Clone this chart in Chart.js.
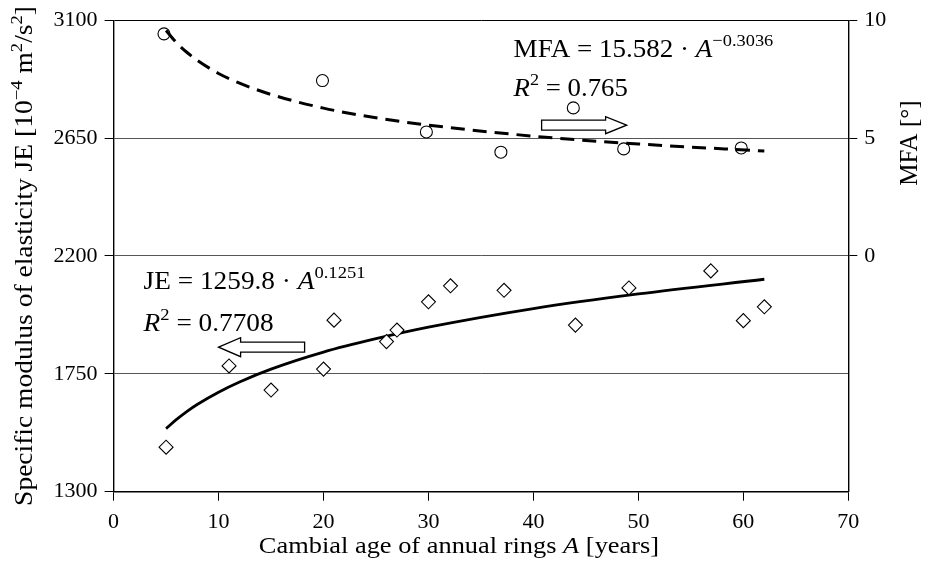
<!DOCTYPE html>
<html>
<head>
<meta charset="utf-8">
<script src="https://cdn.jsdelivr.net/npm/chart.js@4"></script>
<style>
html, body { margin: 0; padding: 0; background: #fff; }
#wrap { width: 927px; height: 563px; position: relative; }
</style>
</head>
<body>
<div id="wrap"><canvas id="chart"></canvas></div>
<script>
// measured points (diamonds = JE, circles = MFA)
const ageJE = [5, 11, 15, 20, 21, 26, 27, 30, 32.1, 37.2, 44, 49.1, 56.9, 60, 62];
const valuesJE = [1470, 1780, 1688, 1768, 1955, 1873, 1917, 2025, 2086, 2069, 1936, 2078, 2143, 1953, 2006];
const ageMFA = [4.8, 19.9, 29.8, 36.9, 43.8, 48.6, 59.8];
const valuesMFA = [9.42, 7.44, 5.26, 4.40, 6.28, 4.54, 4.58];

// trend curves
const fitAge = [5, 6, 7, 8, 10, 12, 15, 20, 25, 30, 40, 50, 62];
const fitJE = [1541, 1576, 1607, 1634, 1680, 1719, 1768, 1833, 1884, 1928, 1999, 2055, 2111];
const fitMFA = [9.56, 9.04, 8.63, 8.29, 7.74, 7.33, 6.85, 6.27, 5.86, 5.55, 5.08, 4.75, 4.45];

const xTicks = [0, 10, 20, 30, 40, 50, 60, 70];
const leftTicks = [1300, 1750, 2200, 2650, 3100];
const rightTicks = [0, 5, 10];

const FONT = "'Liberation Serif', 'DejaVu Serif', serif";

function pts(xs, ys) {
  return xs.map((x, i) => ({ x: x, y: ys[i] }));
}

function fontFor(style, size) {
  let s = style.indexOf('s') >= 0 ? size * 0.68 : size;
  return (style.indexOf('i') >= 0 ? 'italic ' : '') + s + 'px ' + FONT;
}

// text made of plain / italic / superscript pieces, stretched a little to look like the TeX font
function drawRich(ctx, parts, x, y, size, align, stretch) {
  stretch = stretch || 1;
  let widths = parts.map((p) => {
    ctx.font = fontFor(p[1], size);
    return ctx.measureText(p[0]).width;
  });
  let total = widths.reduce((a, b) => a + b, 0) * stretch;
  let cx = align == 'center' ? x - total / 2 : x;
  ctx.save();
  ctx.translate(cx, y);
  ctx.scale(stretch, 1);
  ctx.textAlign = 'left';
  ctx.textBaseline = 'alphabetic';
  let px = 0;
  parts.forEach((p, i) => {
    ctx.font = fontFor(p[1], size);
    let dy = p[1].indexOf('s') >= 0 ? -size * 0.42 : 0;
    ctx.fillText(p[0], px, dy);
    px += widths[i];
  });
  ctx.restore();
}

function drawArrow(ctx, tipX, y, tailX, shaftH, headH, headL) {
  let dir = tailX > tipX ? 1 : -1;
  let baseX = tipX + dir * headL;
  ctx.beginPath();
  ctx.moveTo(tipX, y);
  ctx.lineTo(baseX, y - headH / 2);
  ctx.lineTo(baseX, y - shaftH / 2);
  ctx.lineTo(tailX, y - shaftH / 2);
  ctx.lineTo(tailX, y + shaftH / 2);
  ctx.lineTo(baseX, y + shaftH / 2);
  ctx.lineTo(baseX, y + headH / 2);
  ctx.closePath();
  ctx.fillStyle = '#fff';
  ctx.fill();
  ctx.lineWidth = 1.3;
  ctx.strokeStyle = '#000';
  ctx.stroke();
}

const annotations = {
  id: 'annotations',
  afterDraw(chart) {
    const ctx = chart.ctx;
    const a = chart.chartArea;
    ctx.save();
    ctx.fillStyle = '#000';

    // equations
    drawRich(ctx, [['MFA = 15.582 · ', ''], ['A', 'i'], ['−0.3036', 's']], a.left + 400, a.top + 37, 26, 'left', 1.04);
    drawRich(ctx, [['R', 'i'], ['2', 's'], [' = 0.765', '']], a.left + 400, a.top + 76, 26, 'left', 1.03);
    drawRich(ctx, [['JE = 1259.8 · ', ''], ['A', 'i'], ['0.1251', 's']], a.left + 30, a.top + 269, 26, 'left', 1.05);
    drawRich(ctx, [['R', 'i'], ['2', 's'], [' = 0.7708', '']], a.left + 30, a.top + 311, 26, 'left', 1.05);

    drawArrow(ctx, a.left + 513, a.top + 105, a.left + 428, 10, 17, 21);
    drawArrow(ctx, a.left + 105, a.top + 327, a.left + 191, 10, 19, 22);

    // axis titles
    ctx.fillStyle = '#000';
    ctx.save();
    ctx.translate(32, (a.top + a.bottom) / 2);
    ctx.rotate(-Math.PI / 2);
    drawRich(ctx, [['Specific modulus of elasticity JE [10', ''], ['−4', 's'], [' m', ''], ['2', 's'], ['/s', ''], ['2', 's'], [']', '']], 0, 0, 25, 'center', 1.1);
    ctx.restore();

    ctx.save();
    ctx.translate(917, chart.scales.y1.getPixelForValue(5) + 5);
    ctx.rotate(-Math.PI / 2);
    drawRich(ctx, [['MFA [°]', '']], 0, 0, 25, 'center');
    ctx.restore();

    drawRich(ctx, [['Cambial age of annual rings ', ''], ['A', 'i'], [' [years]', '']], 459, 553, 24, 'center', 1.1);
    ctx.restore();
  }
};

const tickFont = { family: FONT, size: 22 };

new Chart(document.getElementById('chart'), {
  type: 'scatter',
  data: {
    datasets: [
      {
        label: 'JE',
        data: pts(ageJE, valuesJE),
        yAxisID: 'y',
        pointStyle: 'rectRot',
        pointRadius: 7,
        pointBackgroundColor: '#fff',
        pointBorderColor: '#000',
        pointBorderWidth: 1.1,
        showLine: false
      },
      {
        label: 'MFA',
        data: pts(ageMFA, valuesMFA),
        yAxisID: 'y1',
        pointStyle: 'circle',
        pointRadius: 6,
        pointBackgroundColor: 'rgba(255,255,255,0)',
        pointBorderColor: '#000',
        pointBorderWidth: 1.1,
        showLine: false
      },
      {
        label: 'JE fit',
        data: pts(fitAge, fitJE),
        yAxisID: 'y',
        showLine: true,
        pointRadius: 0,
        borderColor: '#000',
        borderWidth: 2.8,
        cubicInterpolationMode: 'monotone'
      },
      {
        label: 'MFA fit',
        data: pts(fitAge, fitMFA),
        yAxisID: 'y1',
        showLine: true,
        pointRadius: 0,
        borderColor: '#000',
        borderWidth: 3,
        borderDash: [14, 8],
        cubicInterpolationMode: 'monotone'
      }
    ]
  },
  options: {
    responsive: true,
    maintainAspectRatio: false,
    animation: false,
    layout: { padding: { top: 19.5, left: 0, right: 0, bottom: 0 } },
    plugins: {
      legend: { display: false },
      tooltip: { enabled: false }
    },
    scales: {
      x: {
        type: 'linear',
        min: 0,
        max: 70,
        afterBuildTicks: (s) => { s.ticks = xTicks.map((v) => ({ value: v })); },
        afterFit: (s) => { s.height = 71.3; },
        ticks: { color: '#000', font: tickFont, padding: 8, maxRotation: 0, callback: (v) => String(v) },
        grid: { drawOnChartArea: false, tickLength: 9, color: '#000', lineWidth: 1 },
        border: { color: '#000', width: 1.4 }
      },
      y: {
        type: 'linear',
        position: 'left',
        min: 1300,
        max: 3100,
        afterBuildTicks: (s) => { s.ticks = leftTicks.map((v) => ({ value: v })); },
        afterFit: (s) => { s.width = 113.6; },
        ticks: { color: '#000', font: tickFont, padding: 7, callback: (v) => String(v) },
        grid: {
          tickLength: 9,
          color: (c) => (c.tick && c.tick.value == 3100) ? '#000' : '#555',
          tickColor: '#000',
          lineWidth: 1
        },
        border: { color: '#000', width: 1.4 }
      },
      y1: {
        type: 'linear',
        position: 'right',
        min: -10,
        max: 10,
        afterBuildTicks: (s) => { s.ticks = rightTicks.map((v) => ({ value: v })); },
        afterFit: (s) => { s.width = 78.7; },
        ticks: { color: '#000', font: tickFont, padding: 7, callback: (v) => String(v) },
        grid: { drawOnChartArea: false, tickLength: 9, color: '#000', lineWidth: 1 },
        border: { color: '#000', width: 1.4 }
      }
    }
  },
  plugins: [annotations]
});
</script>
</body>
</html>
